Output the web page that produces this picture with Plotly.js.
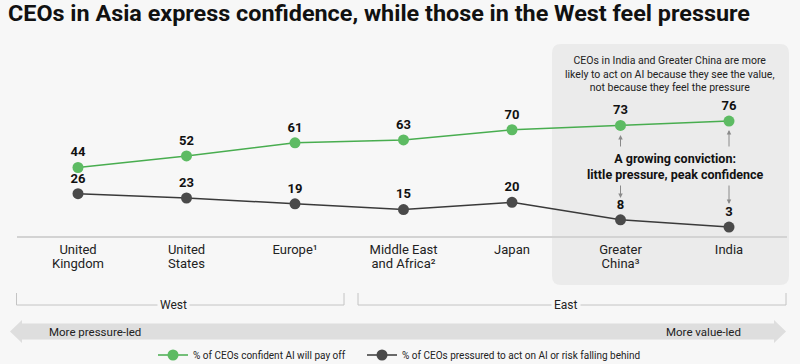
<!DOCTYPE html>
<html>
<head>
<meta charset="utf-8">
<script src="https://cdn.plot.ly/plotly-3.0.1.min.js"></script>
<style>
  html, body { margin: 0; padding: 0; background: #f7f7f7; }
  #chart { width: 800px; height: 364px; }
</style>
</head>
<body>
<div id="chart"></div>
<script>
// ---- data ----
const categories = ['United Kingdom', 'United States', 'Europe', 'Middle East and Africa', 'Japan', 'Greater China', 'India'];
const tickLabels = ['United<br>Kingdom', 'United<br>States', 'Europe\u00b9', 'Middle East<br>and Africa\u00b2', 'Japan', 'Greater<br>China\u00b3', 'India'];
const confident = [44, 52, 61, 63, 70, 73, 76];
const pressured = [26, 23, 19, 15, 20, 8, 3];
const seriesNames = ['% of CEOs confident AI will pay off', '% of CEOs pressured to act on AI or risk falling behind'];

// ---- layout helpers (pixel -> paper) ----
const M = { l: 17, r: 13, t: 60, b: 128 };
const W = 800, H = 364;
const PW = W - M.l - M.r, PH = H - M.t - M.b;
const px = x => (x - M.l) / PW;
const py = y => (H - M.b - y) / PH;

const FONT = "Roboto, 'Open Sans', 'DejaVu Sans', sans-serif";
const GREEN = '#5dbb63', GREEN_LINE = '#48ad4f';
const DARK = '#4a4a4a', DARK_LINE = '#3a3a3a';

const traces = [
  {
    x: categories, y: confident, name: seriesNames[0], legend: 'legend',
    type: 'scatter', mode: 'lines+markers+text',
    text: confident.map(String), textposition: 'top center',
    textfont: { family: FONT, size: 13, color: '#111', weight: 700 },
    line: { color: GREEN_LINE, width: 1.5 },
    marker: { color: GREEN, size: 11 },
    cliponaxis: false, hoverinfo: 'skip'
  },
  {
    x: categories, y: pressured, name: seriesNames[1], legend: 'legend2',
    type: 'scatter', mode: 'lines+markers+text',
    text: pressured.map(String), textposition: 'top center',
    textfont: { family: FONT, size: 13, color: '#111', weight: 700 },
    line: { color: DARK_LINE, width: 1.5 },
    marker: { color: DARK, size: 11 },
    cliponaxis: false, hoverinfo: 'skip'
  }
];

function roundRect(x0, y0, x1, y1, r) {
  const X0 = px(x0), X1 = px(x1), Y0 = py(y0), Y1 = py(y1);
  const rx = r / PW, ry = r / PH;
  return `M ${X0 + rx},${Y0} L ${X1 - rx},${Y0} Q ${X1},${Y0} ${X1},${Y0 - ry} ` +
         `L ${X1},${Y1 + ry} Q ${X1},${Y1} ${X1 - rx},${Y1} L ${X0 + rx},${Y1} ` +
         `Q ${X0},${Y1} ${X0},${Y1 + ry} L ${X0},${Y0 - ry} Q ${X0},${Y0} ${X0 + rx},${Y0} Z`;
}
function poly(pts) {
  return 'M ' + pts.map(p => `${px(p[0])},${py(p[1])}`).join(' L ') + ' Z';
}
function openPath(pts) {
  return 'M ' + pts.map(p => `${px(p[0])},${py(p[1])}`).join(' L ');
}

const shapes = [
  { type: 'path', xref: 'paper', yref: 'paper', layer: 'below',
    path: roundRect(552, 44, 789, 285, 9), fillcolor: '#ebebeb', line: { width: 0 } },
  { type: 'path', xref: 'paper', yref: 'paper', layer: 'below',
    path: openPath([[16.5, 293], [16.5, 305], [344, 305], [344, 293]]),
    line: { color: '#c4c4c4', width: 1 } },
  { type: 'path', xref: 'paper', yref: 'paper', layer: 'below',
    path: openPath([[358, 293], [358, 305], [786, 305], [786, 293]]),
    line: { color: '#c4c4c4', width: 1 } },
  { type: 'path', xref: 'paper', yref: 'paper', layer: 'below',
    path: poly([[10, 331.5], [22, 320], [22, 323.5], [774, 323.5], [774, 320], [786, 331.5],
                [774, 343], [774, 339.5], [22, 339.5], [22, 343]]),
    fillcolor: '#dedede', line: { width: 0 } }
];

const annotations = [
  { xref: 'paper', yref: 'paper', x: px(669), y: py(74), xanchor: 'center', yanchor: 'middle',
    text: 'CEOs in India and Greater China are more<br>likely to act on AI because they see the value,<br>not because they feel the pressure',
    showarrow: false, font: { family: FONT, size: 10.5, color: '#222' }, align: 'center' },
  { xref: 'paper', yref: 'paper', x: px(675), y: py(166), xanchor: 'center', yanchor: 'middle',
    text: 'A growing conviction:<br>little pressure, peak confidence',
    showarrow: false, font: { family: FONT, size: 12.5, color: '#111', weight: 700 }, align: 'center' },
  { xref: 'paper', yref: 'paper', x: px(173), y: py(305), xanchor: 'center', yanchor: 'middle',
    text: 'West', showarrow: false, bgcolor: '#f7f7f7', borderpad: 2,
    font: { family: FONT, size: 12, color: '#222' } },
  { xref: 'paper', yref: 'paper', x: px(566), y: py(305), xanchor: 'center', yanchor: 'middle',
    text: 'East', showarrow: false, bgcolor: '#f7f7f7', borderpad: 2,
    font: { family: FONT, size: 12, color: '#222' } },
  { xref: 'paper', yref: 'paper', x: px(47), y: py(331.5), xanchor: 'left', yanchor: 'middle',
    text: 'More pressure-led', showarrow: false, font: { family: FONT, size: 11.5, color: '#222' } },
  { xref: 'paper', yref: 'paper', x: px(743), y: py(331.5), xanchor: 'right', yanchor: 'middle',
    text: 'More value-led', showarrow: false, font: { family: FONT, size: 11.5, color: '#222' } }
];
[[categories[5], 135, 13], [categories[5], 198, -14], [categories[6], 130, 18], [categories[6], 204, -20]]
  .forEach(a => annotations.push({
    xref: 'x', yref: 'paper', x: a[0], y: py(a[1]), ax: 0, ay: a[2], axref: 'pixel', ayref: 'pixel',
    text: '', showarrow: true, arrowhead: 2, arrowsize: 0.9, arrowwidth: 1, arrowcolor: '#8a8a8a'
  }));

const legendBase = {
  orientation: 'h', xref: 'container', yref: 'container',
  xanchor: 'left', y: 1 - 355 / H, yanchor: 'middle',
  font: { family: FONT, size: 10, color: '#222' },
  bgcolor: 'rgba(0,0,0,0)', itemwidth: 30
};

const layout = {
  width: W, height: H,
  margin: M,
  paper_bgcolor: '#f7f7f7', plot_bgcolor: 'rgba(0,0,0,0)',
  font: { family: FONT, color: '#222' },
  title: {
    text: 'CEOs in Asia express confidence, while those in the West feel pressure',
    x: 8 / W, xanchor: 'left', xref: 'container',
    y: 1 - 6 / H, yanchor: 'top', yref: 'container',
    pad: { t: 0, b: 0, l: 0, r: 0 },
    font: { family: FONT, size: 22, color: '#111', weight: 700 }
  },
  xaxis: {
    type: 'category', categoryorder: 'array', categoryarray: categories,
    range: [-0.5622, 6.5346],
    tickvals: categories, ticktext: tickLabels,
    showline: true, linecolor: '#d3d3d3', linewidth: 2,
    showgrid: false, zeroline: false, ticks: '',
    tickfont: { family: FONT, size: 13, color: '#222' },
    automargin: false, fixedrange: true
  },
  yaxis: {
    range: [-3.17, 118.04], visible: false, showgrid: false, zeroline: false,
    automargin: false, fixedrange: true
  },
  showlegend: true,
  legend: Object.assign({}, legendBase, { x: 153 / W }),
  legend2: Object.assign({}, legendBase, { x: 362 / W }),
  shapes: shapes,
  annotations: annotations
};

Plotly.newPlot('chart', traces, layout, { displayModeBar: false, staticPlot: true }).then(gd => {
  // condense the headline horizontally to the reference width (keeps it real text)
  const t = gd.querySelector('.gtitle');
  if (t) {
    t.setAttribute('x', '8');
    t.setAttribute('text-anchor', 'start');
    t.setAttribute('textLength', '742');
    t.setAttribute('lengthAdjust', 'spacingAndGlyphs');
  }
  // tighter line spacing for two-line category labels
  gd.querySelectorAll('.xtick text tspan.line').forEach(s => {
    const dy = s.getAttribute('dy');
    if (dy && parseFloat(dy) > 0) s.setAttribute('dy', '1.08em');
  });
});
</script>
</body>
</html>
